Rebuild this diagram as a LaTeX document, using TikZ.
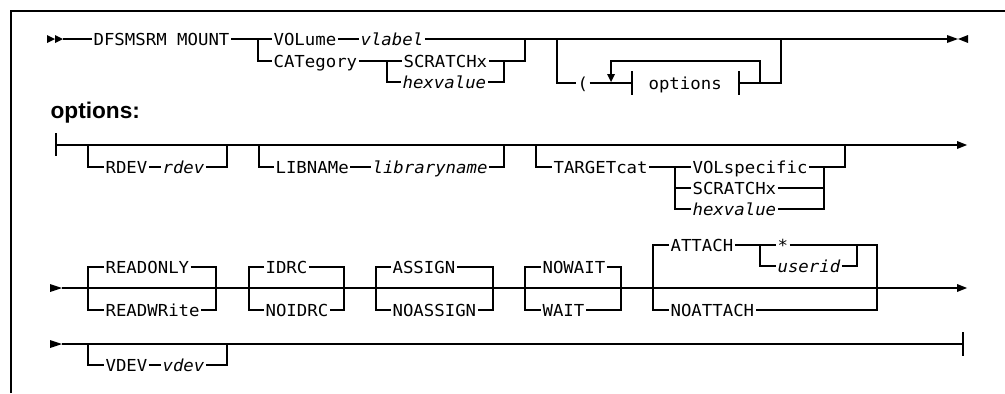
\documentclass[tikz,border=0pt]{standalone}
\usepackage{fontspec}
\newfontfamily\rrfont[FakeStretch=1.05]{DejaVu Sans Mono}
\newfontfamily\hdfont{Liberation Sans}
\newcommand\rrf{\rrfont\fontsize{12.4pt}{15pt}\selectfont}
\begin{document}
\begin{tikzpicture}[x=0.75pt,y=-0.75pt,line width=0.85pt,
  kw/.style={font=\rrf, inner xsep=0.75pt, inner ysep=0pt, text height=9pt, text depth=0pt, anchor=west},
  var/.style={kw, font=\rrf\itshape},
  hdr/.style={font=\hdfont\bfseries\fontsize{17pt}{20pt}\selectfont, anchor=base west, inner sep=0pt}]
\useasboundingbox (0,0) rectangle (1005,393);
% frame
\draw (11,393) -- (11,11) -- (1005,11);

% ---------- Row 1 ----------
\fill (47,35) -- (55,39) -- (47,43) -- cycle;
\fill (55,35) -- (63,39) -- (55,43) -- cycle;
\coordinate (a1) at (63,39);
\node[kw] (dfs) at (92,39) {DFSMSRM MOUNT};
\coordinate (j1) at (258,39);
\node[kw] (vol) at (272,39) {VOLume};
\node[var] (vlab) at (359,39) {vlabel};
\node[kw] (cat) at (272,61) {CATegory};
\coordinate (j2) at (387,61);
\node[kw] (scr) at (402,61) {SCRATCHx};
\node[var] (hex) at (401,82) {hexvalue};
\coordinate (j3) at (504,61);
\coordinate (j4) at (525,39);
\coordinate (j5) at (557,39);
\node[kw] (par) at (576,83) {(};
\coordinate (bar1) at (632,83);
\node[kw] (opt) at (647,83) {options};
\coordinate (bar2) at (739,83);
\coordinate (lp2) at (760,83);
\coordinate (lp3) at (611,61);
\coordinate (j6) at (781,39);
\coordinate (e1) at (947,39);

\draw (a1) -- (dfs.west);
\draw (dfs.east) -- (vol.west);
\draw (vol.east) -- (vlab.west);
\draw (vlab.east) -- (e1);
\draw (j1) |- (cat.west);
\draw (cat.east) -- (scr.west);
\draw (j2) |- (hex.west);
\draw (scr.east) -| (j4);
\draw (hex.east) -| (j3);
\draw (j5) |- (par.west);
\draw (par.east) -- (bar1);
\draw (bar1) ++(0,-12) -- ++(0,24);
\draw (bar2) ++(0,-12) -- ++(0,24);
\draw (bar2) -| (j6);
\draw (lp2) |- (lp3) -- ++(0,13);
\fill (607,74) -- (615,74) -- (611,82) -- cycle;
\fill (947,35) -- (958,39) -- (947,43) -- cycle;
\fill (968,35) -- (958,39) -- (968,43) -- cycle;

% ---------- options header ----------
\node[hdr] (hd) at (50,118) {options:};

% ---------- Row 2 ----------
\coordinate (s2) at (56,145);
\coordinate (e2) at (957,145);
\draw (s2) ++(0,-12) -- ++(0,23);
\draw (s2) -- (e2);
\fill (957,141) -- (967,145) -- (957,149) -- cycle;
\coordinate (r1) at (88,145);
\node[kw] (rdev) at (104,167) {RDEV};
\node[var] (rdevv) at (161,167) {rdev};
\coordinate (r2) at (227,145);
\draw (r1) |- (rdev.west);
\draw (rdev.east) -- (rdevv.west);
\draw (rdevv.east) -| (r2);
\coordinate (l1) at (259,145);
\node[kw] (lib) at (274,167) {LIBNAMe};
\node[var] (libv) at (371,167) {libraryname};
\coordinate (l2) at (504,145);
\draw (l1) |- (lib.west);
\draw (lib.east) -- (libv.west);
\draw (libv.east) -| (l2);
\coordinate (t1) at (536,145);
\node[kw] (tgt) at (552,167) {TARGETcat};
\coordinate (t2) at (675,167);
\node[kw] (vs) at (691,167) {VOLspecific};
\node[kw] (scr2) at (691,188) {SCRATCHx};
\node[var] (hex2) at (691,209) {hexvalue};
\coordinate (t3) at (824,167);
\coordinate (t4) at (845,145);
\draw (t1) |- (tgt.west);
\draw (tgt.east) -- (vs.west);
\draw (t2) |- (scr2.west);
\draw (t2) |- (hex2.west);
\draw (vs.east) -| (t4);
\draw (scr2.east) -| (t3);
\draw (hex2.east) -| (t3);

% ---------- Row 3 ----------
\fill (50,284) -- (62,288) -- (50,292) -- cycle;
\coordinate (s3) at (62,288);
\coordinate (e3) at (957,288);
\draw (s3) -- (e3);
\fill (957,284) -- (967,288) -- (957,292) -- cycle;
% READONLY
\node[kw] (ro) at (104,267) {READONLY};
\node[kw] (rw) at (104,310) {READWRite};
\draw (ro.west) -| (88,310) -- (rw.west);
\draw (ro.east) -| (216,310) -- (rw.east);
% IDRC
\node[kw] (idrc) at (264,267) {IDRC};
\node[kw] (noidrc) at (264,310) {NOIDRC};
\draw (idrc.west) -| (249,310) -- (noidrc.west);
\draw (idrc.east) -| (344,310) -- (noidrc.east);
% ASSIGN
\node[kw] (asg) at (391,267) {ASSIGN};
\node[kw] (noasg) at (391,310) {NOASSIGN};
\draw (asg.west) -| (376,310) -- (noasg.west);
\draw (asg.east) -| (493,310) -- (noasg.east);
% NOWAIT
\node[kw] (nowait) at (541,267) {NOWAIT};
\node[kw] (wait) at (541,310) {WAIT};
\draw (nowait.west) -| (525,310) -- (wait.west);
\draw (nowait.east) -| (621,310) -- (wait.east);
% ATTACH
\node[kw] (att) at (669,245) {ATTACH};
\node[kw] (noatt) at (669,310) {NOATTACH};
\coordinate (at1) at (760,245);
\node[kw] (star) at (776,245) {*};
\node[var] (uid) at (776,266) {userid};
\coordinate (at2) at (857,245);
\draw (att.west) -| (653,310) -- (noatt.west);
\draw (att.east) -- (star.west);
\draw (at1) |- (uid.west);
\draw (uid.east) -| (at2);
\draw (star.east) -| (877,310) -- (noatt.east);

% ---------- Row 4 ----------
\fill (50,340) -- (62,344) -- (50,348) -- cycle;
\coordinate (s4) at (62,344);
\coordinate (e4) at (963,344);
\draw (s4) -- (e4);
\draw (e4) ++(0,-12) -- ++(0,24);
\coordinate (v1) at (88,344);
\node[kw] (vdev) at (104,365) {VDEV};
\node[var] (vdevv) at (161,365) {vdev};
\coordinate (v2) at (227,344);
\draw (v1) |- (vdev.west);
\draw (vdev.east) -- (vdevv.west);
\draw (vdevv.east) -| (v2);
\end{tikzpicture}
\end{document}
